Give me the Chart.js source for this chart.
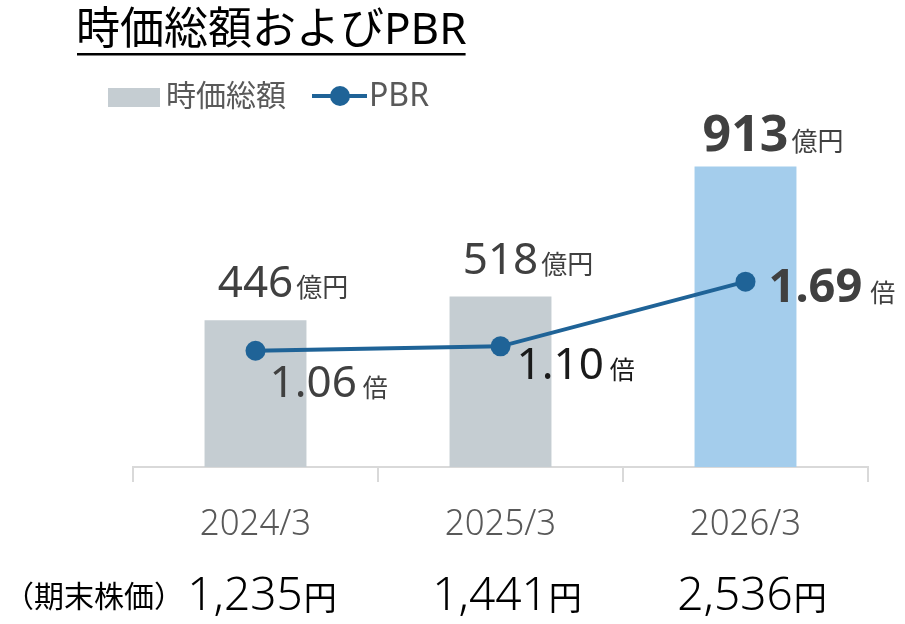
<!DOCTYPE html>
<html>
<head>
<meta charset="utf-8">
<script src="https://cdn.jsdelivr.net/npm/chart.js@4/dist/chart.umd.min.js"></script>
<style>
  body { margin: 0; background: #fff; }
  #wrap { width: 905px; height: 624px; }
</style>
</head>
<body>
<div id="wrap"><canvas id="mcapChart" width="905" height="624"></canvas></div>
<script>
// データ
var periods = ['2024/3', '2025/3', '2026/3'];
var marketCap = [446, 518, 913];      // 億円
var pbr = [1.06, 1.10, 1.69];         // 倍
var stockPrice = ['1,235', '1,441', '2,536']; // 円

var FONT = '"Noto Sans", "Noto Sans CJK JP", sans-serif';
var BAR_GRAY = '#c5cdd2';
var BAR_BLUE = '#a4cdec';
var LINE_BLUE = '#1f6397';

// 横に詰めた文字を描く
function narrowText(ctx, text, x, y, font, color, sx, align) {
    ctx.save();
    ctx.font = font;
    ctx.fillStyle = color;
    ctx.textBaseline = 'alphabetic';
    var w = ctx.measureText(text).width * sx;
    var left = align === 'center' ? x - w / 2 : x;
    ctx.translate(left, y);
    ctx.scale(sx, 1);
    ctx.textAlign = 'left';
    ctx.fillText(text, 0, 0);
    ctx.restore();
}

// 数字 + 単位 (数字は中央揃え)
function numUnit(ctx, num, unit, cx, y, numFont, unitFont, color, gap) {
    ctx.save();
    ctx.fillStyle = color;
    ctx.textBaseline = 'alphabetic';
    ctx.font = numFont;
    var w = ctx.measureText(num).width;
    ctx.textAlign = 'left';
    ctx.fillText(num, cx - w / 2, y);
    ctx.font = unitFont;
    ctx.fillText(unit, cx + w / 2 + gap, y);
    ctx.restore();
}

var extras = {
    id: 'extras',
    afterDraw: function(chart) {
        var ctx = chart.ctx;
        var x = chart.scales.x, y = chart.scales.y, y1 = chart.scales.y1;

        // タイトル
        ctx.save();
        ctx.font = '44px ' + FONT;
        ctx.fillStyle = '#000';
        ctx.textBaseline = 'alphabetic';
        ctx.fillText('時価総額およびPBR', 76, 44);
        var tw = ctx.measureText('時価総額およびPBR').width;
        ctx.fillRect(77, 53, tw - 2, 2.5);
        ctx.restore();

        // 凡例
        ctx.save();
        ctx.fillStyle = BAR_GRAY;
        ctx.fillRect(108, 88, 52, 19);
        ctx.font = '30px ' + FONT;
        ctx.fillStyle = '#595959';
        ctx.textBaseline = 'middle';
        ctx.fillText('時価総額', 166, 97);
        ctx.strokeStyle = LINE_BLUE;
        ctx.lineWidth = 4;
        ctx.beginPath();
        ctx.moveTo(312, 96);
        ctx.lineTo(367, 96);
        ctx.stroke();
        ctx.fillStyle = LINE_BLUE;
        ctx.beginPath();
        ctx.arc(340, 96, 10, 0, Math.PI * 2);
        ctx.fill();
        ctx.fillStyle = '#595959';
        ctx.font = '32px ' + FONT;
        ctx.fillText('PBR', 369, 97);
        ctx.restore();

        // 時価総額ラベル
        marketCap.forEach(function(v, i) {
            var cx = x.getPixelForValue(i);
            var top = y.getPixelForValue(v);
            if (i === marketCap.length - 1) {
                numUnit(ctx, String(v), '億円', cx, top - 16, 'bold 50px ' + FONT, '26px ' + FONT, '#404040', 3);
            } else {
                numUnit(ctx, String(v), '億円', cx, top - 23, '44px ' + FONT, '26px ' + FONT, '#404040', 3);
            }
        });

        // PBRラベル
        var pbrOffsets = [[14, 46], [16, 33], [23, 20]];
        pbr.forEach(function(v, i) {
            var px = x.getPixelForValue(i);
            var py = y1.getPixelForValue(v);
            var txt = v.toFixed(2);
            var last = i === pbr.length - 1;
            ctx.save();
            ctx.font = (last ? 'bold 47px ' : '44px ') + FONT;
            ctx.fillStyle = i === 1 ? '#1a1a1a' : '#404040';
            ctx.textBaseline = 'alphabetic';
            var sx = px + pbrOffsets[i][0], sy = py + pbrOffsets[i][1];
            ctx.fillText(txt, sx, sy);
            var w = ctx.measureText(txt).width;
            ctx.font = '25px ' + FONT;
            ctx.fillText('倍', sx + w + (last ? 8 : 6), sy);
            ctx.restore();
        });

        // 年度ラベル
        periods.forEach(function(p, i) {
            narrowText(ctx, p, x.getPixelForValue(i), 535, '300 37px ' + FONT, '#595959', 0.94, 'center');
        });

        // 期末株価
        ctx.save();
        ctx.font = '30px ' + FONT;
        ctx.fillStyle = '#000';
        ctx.textBaseline = 'alphabetic';
        ctx.fillText('（期末株価）', 4, 607);
        ctx.restore();
        stockPrice.forEach(function(s, i) {
            var cx = x.getPixelForValue(i) + 6;
            ctx.save();
            ctx.font = '300 46px ' + FONT;
            var w1 = ctx.measureText(s).width;
            ctx.font = '33px ' + FONT;
            var w2 = ctx.measureText('円').width;
            ctx.restore();
            var left = cx - (w1 + w2) / 2;
            narrowText(ctx, s, left, 610, '300 46px ' + FONT, '#000', 1, 'left');
            narrowText(ctx, '円', left + w1 + 1, 610, '33px ' + FONT, '#000', 1, 'left');
        });
    }
};

var ctx = document.getElementById('mcapChart').getContext('2d');
var chart = new Chart(ctx, {
    data: {
        labels: periods,
        datasets: [{
            type: 'line',
            label: 'PBR',
            data: pbr,
            yAxisID: 'y1',
            borderColor: LINE_BLUE,
            backgroundColor: LINE_BLUE,
            borderWidth: 4,
            pointRadius: 10,
            pointBackgroundColor: LINE_BLUE,
            pointBorderWidth: 0,
            tension: 0,
            order: 0
        }, {
            type: 'bar',
            label: '時価総額',
            data: marketCap,
            yAxisID: 'y',
            backgroundColor: [BAR_GRAY, BAR_GRAY, BAR_BLUE],
            categoryPercentage: 1,
            barPercentage: 0.416,
            order: 1
        }]
    },
    options: {
        responsive: false,
        animation: false,
        layout: { padding: { top: 138, left: 133, right: 37, bottom: 0 } },
        plugins: {
            legend: { display: false },
            title: { display: false },
            tooltip: { enabled: false }
        },
        scales: {
            x: {
                offset: true,
                grid: {
                    offset: true,
                    drawOnChartArea: false,
                    tickLength: 15,
                    color: '#d9d9d9',
                    lineWidth: 2
                },
                border: { color: '#d9d9d9', width: 2 },
                ticks: { display: false },
                afterFit: function(scale) { scale.height = 157; }
            },
            y: { display: false, min: 0, max: 1000 },
            y1: { display: false, min: 0, max: 3 }
        }
    },
    plugins: [extras]
});
</script>
</body>
</html>
